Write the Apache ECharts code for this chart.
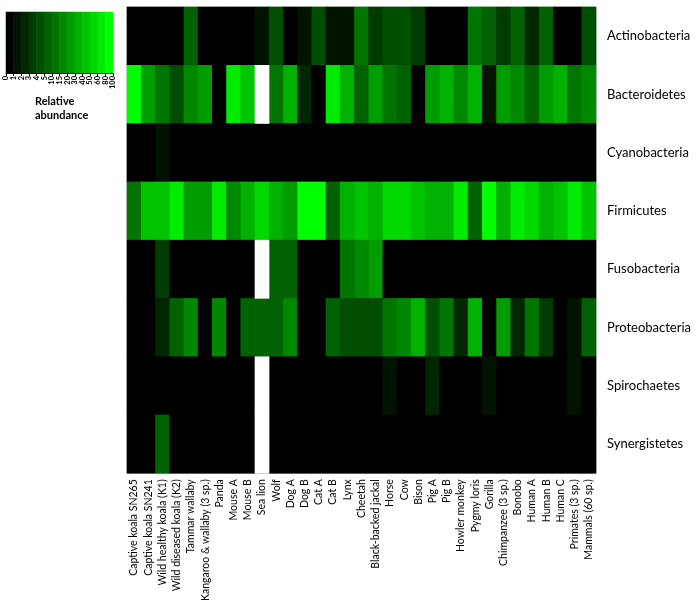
<!DOCTYPE html>
<html>
<head>
<meta charset="utf-8">
<script src="https://cdn.jsdelivr.net/npm/echarts@6/dist/echarts.min.js"></script>
<style>
  html, body { margin: 0; padding: 0; background: #fff; }
  #chart { width: 700px; height: 604px; }
</style>
</head>
<body>
<div id="chart"></div>
<script>
// samples (columns) and phyla (rows)
var samples = ["Captive koala SN265", "Captive koala SN241", "Wild healthy koala (K1)", "Wild diseased koala (K2)",
  "Tammar wallaby", "Kangaroo & wallaby (3 sp.)", "Panda", "Mouse A", "Mouse B", "Sea lion", "Wolf", "Dog A", "Dog B",
  "Cat A", "Cat B", "Lynx", "Cheetah", "Black-backed jackal", "Horse", "Cow", "Bison", "Pig A", "Pig B",
  "Howler monkey", "Pygmy loris", "Gorilla", "Chimpanzee (3 sp.)", "Bonobo", "Human A", "Human B", "Human C",
  "Primates (3 sp.)", "Mammals (60 sp.)"];
var phyla = ["Actinobacteria", "Bacteroidetes", "Cyanobacteria", "Firmicutes",
  "Fusobacteria", "Proteobacteria", "Spirochaetes", "Synergistetes"];

// relative abundance (%) per phylum, one value per sample ('-' = no data)
var actinobacteria = [0.2, 0.1, 0.3, 0.2, 8, 0.1, 0.2, 0.1, 0.3, 1.5, 4.5, 0.4, 1.5, 4.6, 1.4, 1.2, 12, 3.5, 4.4, 4.8, 3.2, 0.3, 0.2, 0.5, 11, 7, 3.6, 7.5, 2.4, 8, 0.5, 0.6, 4.2];
var bacteroidetes = [82, 26, 13, 4.5, 17, 25, 0.3, 68, 45, '-', 12, 36, 2.4, 0.2, 66, 35, 8, 24, 12, 7, 0.4, 26, 38, 18, 34, 1.6, 25, 18, 8, 28, 33, 12, 18];
var cyanobacteria = [0.1, 0.2, 1.4, 0.1, 0.2, 0.1, 0.3, 0.1, 0.2, 0.1, 0.1, 0.2, 0.1, 0.1, 0.2, 0.1, 0.1, 0.2, 0.1, 0.1, 0.2, 0.1, 0.1, 0.2, 0.1, 0.1, 0.2, 0.1, 0.1, 0.2, 0.1, 0.1, 0.2];
var firmicutes = [12, 46, 45, 68, 25, 24, 70, 17, 35, 55, 38, 26, 88, 90, 8, 34, 44, 36, 54, 56, 42, 35, 36, 66, 7, 85, 37, 65, 55, 36, 47, 68, 46];
var fusobacteria = [0.2, 0.1, 3.5, 0.3, 0.1, 0.2, 0.1, 0.2, 0.1, '-', 7, 7.5, 0.3, 0.2, 0.4, 11, 16, 24, 0.2, 0.1, 0.2, 0.1, 0.3, 0.1, 0.2, 0.1, 0.3, 0.2, 0.1, 0.2, 0.3, 0.1, 0.4];
var proteobacteria = [0.3, 0.2, 2.4, 7, 17, 0.4, 16, 0.5, 8, 8.5, 8, 17, 0.6, 0.8, 8, 4.5, 4.2, 4.8, 12, 18, 36, 4.6, 13, 2.3, 34, 0.7, 24, 2.5, 12, 3.4, 0.8, 1.6, 8];
var spirochaetes = [0.1, 0.1, 0.2, 0.1, 0.1, 0.2, 0.1, 0.1, 0.2, '-', 0.1, 0.2, 0.1, 0.1, 0.2, 0.1, 0.1, 0.2, 1.4, 0.1, 0.2, 2.3, 0.1, 0.2, 0.1, 1.3, 0.2, 0.1, 0.1, 0.2, 0.1, 1.5, 0.2];
var synergistetes = [0.1, 0.1, 6, 0.1, 0.1, 0.1, 0.1, 0.1, 0.1, '-', 0.1, 0.1, 0.1, 0.1, 0.1, 0.1, 0.1, 0.1, 0.1, 0.1, 0.1, 0.1, 0.1, 0.1, 0.1, 0.1, 0.1, 0.1, 0.1, 0.1, 0.1, 0.1, 0.1];

// colour scale breaks (legend tick labels)
var breaks = [0, 1, 2, 3, 4, 5, 10, 15, 20, 30, 40, 50, 60, 80, 100];

var rows = [actinobacteria, bacteroidetes, cyanobacteria, firmicutes,
  fusobacteria, proteobacteria, spirochaetes, synergistetes];

var cells = [];
var missing = [];
rows.forEach(function (row, r) {
  row.forEach(function (v, c) {
    if (v === '-') missing.push([c, r, 0]);
    else cells.push([c, r, v]);
  });
});

var nBands = breaks.length - 1;
var pieces = [];
var bandNames = [];
var legendCells = [];
for (var i = 0; i < nBands; i++) {
  var g = Math.round(255 * i / (nBands - 1));
  var p = { gte: breaks[i], color: "rgb(0," + g + ",0)" };
  if (i < nBands - 1) p.lt = breaks[i + 1]; else p.lte = breaks[i + 1];
  pieces.push(p);
  bandNames.push(String(i));
  legendCells.push([i, 0, (breaks[i] + breaks[i + 1]) / 2]);
}

var font = "Lato, 'Open Sans', sans-serif";
var myChart = echarts.init(document.getElementById("chart"));

var option = {
  animation: false,
  backgroundColor: "#fff",
  visualMap: {
    type: "piecewise",
    show: false,
    dimension: 2,
    seriesIndex: [0, 1],
    pieces: pieces
  },
  grid: [
    { left: 127, top: 7, width: 469, height: 472, show: true, backgroundColor: "#000", borderColor: "#aaa", borderWidth: 1 },
    { left: 6, top: 12, width: 107, height: 61 }
  ],
  xAxis: [
    {
      type: "category",
      gridIndex: 0,
      data: samples,
      position: "bottom",
      axisLine: { show: false },
      axisTick: { show: false },
      splitLine: { show: false },
      axisLabel: { rotate: 90, interval: 0, margin: 6, fontSize: 10.5, color: "#000", fontFamily: font }
    },
    {
      type: "category",
      gridIndex: 1,
      data: bandNames,
      position: "top",
      show: false
    },
    {
      type: "category",
      gridIndex: 1,
      position: "bottom",
      data: breaks.map(String),
      boundaryGap: false,
      splitLine: { show: false },
      axisLine: { show: true, lineStyle: { color: "#000", width: 1 } },
      axisTick: { show: true, interval: 0, length: 3, lineStyle: { color: "#000" } },
      axisLabel: {
        rotate: 90, interval: 0, margin: 3, fontSize: 7.5, color: "#000", fontFamily: font, fontWeight: "bold"
      }
    }
  ],
  yAxis: [
    {
      type: "category",
      gridIndex: 0,
      data: phyla,
      inverse: true,
      position: "right",
      axisLine: { show: false },
      axisTick: { show: false },
      splitLine: { show: false },
      axisLabel: { align: "left", margin: 11, fontSize: 13, color: "#000", fontFamily: font }
    },
    {
      type: "category",
      gridIndex: 1,
      data: ["scale"],
      show: false
    }
  ],
  graphic: [
    {
      type: "text",
      left: 35,
      top: 94,
      style: {
        text: "Relative\nabundance",
        align: "center",
        fontSize: 11,
        fontWeight: "bold",
        fontFamily: font,
        fill: "#000",
        lineHeight: 14
      }
    }
  ],
  series: [
    {
      type: "heatmap",
      xAxisIndex: 0,
      yAxisIndex: 0,
      data: cells,
      itemStyle: { borderWidth: 0 },
      emphasis: { disabled: true }
    },
    {
      type: "heatmap",
      xAxisIndex: 1,
      yAxisIndex: 1,
      data: legendCells,
      itemStyle: { borderWidth: 0 },
      emphasis: { disabled: true }
    },
    {
      // samples without data for a phylum are shown blank (white)
      type: "heatmap",
      xAxisIndex: 0,
      yAxisIndex: 0,
      data: missing,
      itemStyle: { color: "#fff", borderWidth: 0 },
      emphasis: { disabled: true }
    }
  ]
};

myChart.setOption(option);
</script>
</body>
</html>
